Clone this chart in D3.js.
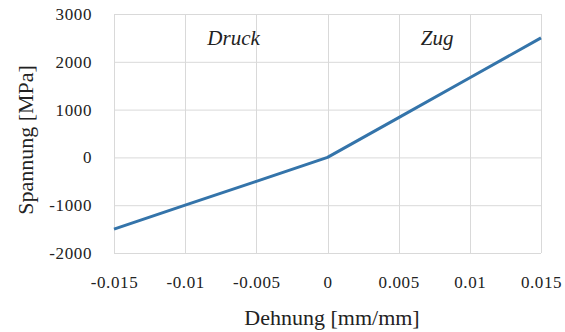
<!DOCTYPE html>
<html>
<head>
<meta charset="utf-8">
<script src="https://cdn.jsdelivr.net/npm/d3@7"></script>
</head>
<body>
<svg id="chart" width="565" height="332"></svg>
<script>
// Stress–strain curve: compression (Druck) and tension (Zug)
const strain = [-0.015, -0.01, -0.005, 0, 0.005, 0.01, 0.015];
const stress = [-1500, -1000, -500, 0, 833, 1667, 2500];

const xTicks = [-0.015, -0.01, -0.005, 0, 0.005, 0.01, 0.015];
const xTickLabels = ["-0.015", "-0.01", "-0.005", "0", "0.005", "0.01", "0.015"];
const yTicks = [-2000, -1000, 0, 1000, 2000, 3000];
const yTickLabels = ["-2000", "-1000", "0", "1000", "2000", "3000"];

const regionLabels = ["Druck", "Zug"];
const regionPos = [-0.0066, 0.0077];

const FONT = "Liberation Serif";
const INK = "#222";

d3.select("body").style("margin", "0px").style("background", "#fff");

const svg = d3.select("#chart").style("display", "block");
const margin = { left: 114, right: 24, top: 14, bottom: 79 };
const W = 565, H = 332;

const x = d3.scaleLinear().domain([-0.015, 0.015]).range([margin.left, W - margin.right]);
const y = d3.scaleLinear().domain([-2000, 3000]).range([H - margin.bottom, margin.top]);

// gridlines
const grid = svg.append("g");
grid.selectAll("line.h").data(yTicks).join("line")
  .attr("x1", x.range()[0]).attr("x2", x.range()[1])
  .attr("y1", d => y(d) + 0.5).attr("y2", d => y(d) + 0.5)
  .attr("stroke", "#d9d9d9").attr("stroke-width", 1);
grid.selectAll("line.v").data(xTicks).join("line")
  .attr("x1", d => Math.round(x(d)) + 0.5).attr("x2", d => Math.round(x(d)) + 0.5)
  .attr("y1", y.range()[0]).attr("y2", y.range()[1])
  .attr("stroke", "#d9d9d9").attr("stroke-width", 1);

// axes (labels only, no domain or tick lines)
const tickStyle = g => {
  g.attr("font-family", FONT).attr("font-size", 17);
  g.selectAll("text").attr("fill", INK).attr("letter-spacing", 0.6);
};

const xAxis = d3.axisBottom(x).tickValues(xTicks)
  .tickFormat((d, i) => xTickLabels[i]).tickSize(0).tickPadding(23);
const gx = svg.append("g").attr("transform", `translate(0,${y.range()[0]})`).call(xAxis);
gx.select(".domain").remove();
tickStyle(gx);

const yAxis = d3.axisLeft(y).tickValues(yTicks)
  .tickFormat((d, i) => yTickLabels[i]).tickSize(0).tickPadding(22);
const gy = svg.append("g").attr("transform", `translate(${x.range()[0]},0)`).call(yAxis);
gy.select(".domain").remove();
tickStyle(gy);

// curve
const line = d3.line().x((d, i) => x(strain[i])).y(d => y(d));
svg.append("path").datum(stress)
  .attr("d", line)
  .attr("fill", "none")
  .attr("stroke", "#3474aa")
  .attr("stroke-width", 3)
  .attr("stroke-linejoin", "round");

// region labels
svg.selectAll("text.region").data(regionLabels).join("text")
  .attr("class", "region")
  .attr("x", (d, i) => x(regionPos[i]))
  .attr("y", 45)
  .attr("text-anchor", "middle")
  .attr("font-family", FONT)
  .attr("font-style", "italic")
  .attr("font-size", 21)
  .attr("fill", INK)
  .text(d => d);

// axis titles
svg.append("text")
  .attr("x", 332)
  .attr("y", 325)
  .attr("text-anchor", "middle")
  .attr("font-family", FONT)
  .attr("font-size", 22)
  .attr("fill", INK)
  .text("Dehnung [mm/mm]");

svg.append("text")
  .attr("transform", "translate(33,140) rotate(-90)")
  .attr("text-anchor", "middle")
  .attr("font-family", FONT)
  .attr("font-size", 22)
  .attr("fill", INK)
  .text("Spannung [MPa]");
</script>
</body>
</html>
